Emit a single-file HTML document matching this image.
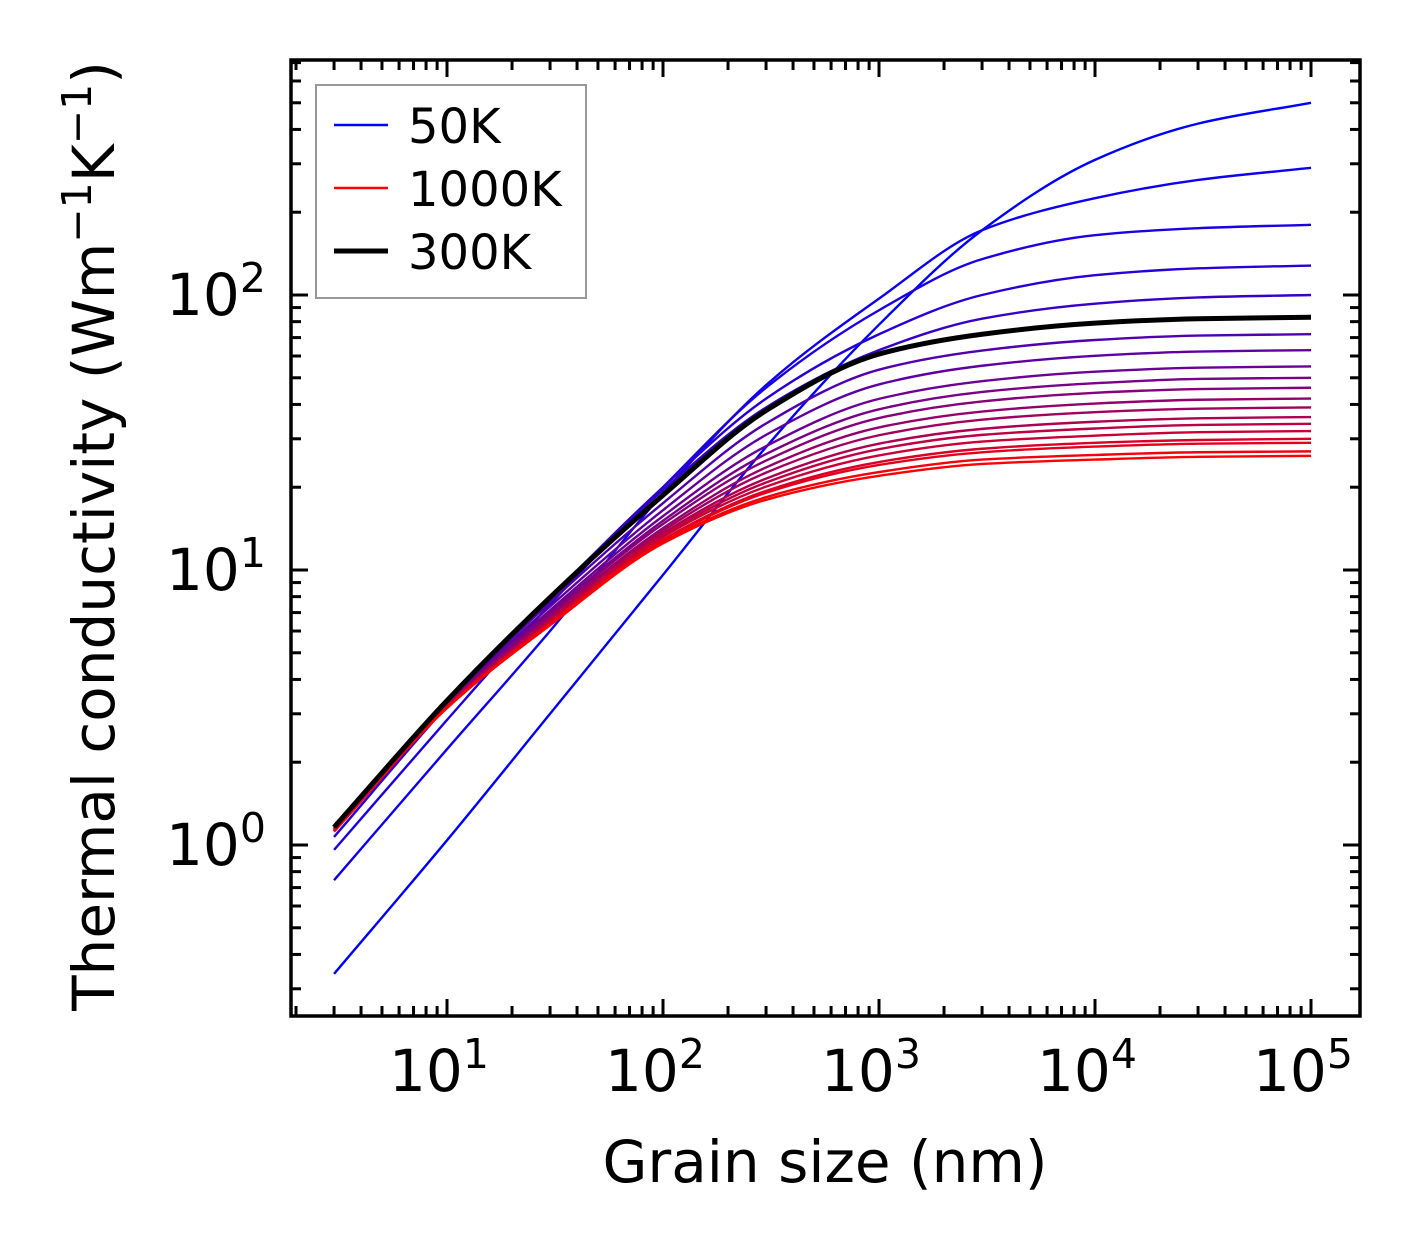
<!DOCTYPE html>
<html><head><meta charset="utf-8"><style>
html,body{margin:0;padding:0;background:#fff}
svg{display:block;font-family:"DejaVu Sans","Liberation Sans",sans-serif}
</style></head><body>
<svg id="chart" width="1421" height="1254" viewBox="0 0 1421 1254" xmlns="http://www.w3.org/2000/svg">
<rect width="1421" height="1254" fill="#fff"/>
<g id="curves"></g>
<g id="ticks"></g>
<rect x="291" y="60" width="1069" height="956" fill="none" stroke="#000" stroke-width="3.5"/>
<g id="xlabels"></g>
<g id="ylabels"></g>
<text x="825" y="1182" font-size="58" text-anchor="middle">Grain size (nm)</text>
<text transform="translate(114,536) rotate(-90)" font-size="58" text-anchor="middle">Thermal conductivity (Wm<tspan dy="-23" font-size="41">−1</tspan><tspan dy="23">K</tspan><tspan dy="-23" font-size="41">−1</tspan><tspan dy="23">)</tspan></text>
<g>
<rect x="316" y="85" width="270" height="213" fill="#fff" stroke="#999" stroke-width="2"/>
<line x1="334" y1="125" x2="388" y2="125" stroke="#0000ff" stroke-width="2.5"/>
<text x="408" y="143" font-size="48">50K</text>
<line x1="334" y1="188" x2="388" y2="188" stroke="#ff0000" stroke-width="2.5"/>
<text x="408" y="206" font-size="48">1000K</text>
<line x1="334" y1="251" x2="388" y2="251" stroke="#000" stroke-width="5"/>
<text x="408" y="269" font-size="48">300K</text>
</g>
</svg>
<script>
const grainSizes = [3, 10, 30, 100, 300, 1000, 3000, 10000, 30000, 100000];
const temperatures = [50,100,150,200,250,300,350,400,450,500,550,600,650,700,750,800,850,900,950,1000];
const k50 = [0.34,1.04,3.0,9.6,28,78,172,310,420,500];
const k100 = [0.745,2.23,6.0,19,47,97,172,225,262,290];
const k150 = [0.96,2.85,7.5,20,46,88,135,165,175,180];
const k200 = [1.07,3.2,7.9,20,42,72,100,118,125,128];
const k250 = [1.12,3.33,8.0,19.5,39,63,82,93,98,100];
const k300 = [1.16,3.35,7.95,18.7,38,61,72,79,82,83];
const k350 = [1.15,3.31,7.63,17.5,34.1,53.5,62.8,68.6,71.2,72];
const k400 = [1.15,3.28,7.37,16.5,31.0,47.3,55.3,60.1,62.3,63];
const k450 = [1.14,3.25,7.14,15.7,28.2,41.9,48.6,52.6,54.4,55];
const k500 = [1.14,3.23,6.99,15.1,26.4,38.4,44.4,47.8,49.5,50];
const k550 = [1.13,3.22,6.88,14.7,25.0,35.7,41.0,44.1,45.5,46];
const k600 = [1.13,3.21,6.76,14.2,23.6,33.0,37.7,40.3,41.6,42];
const k650 = [1.13,3.20,6.68,13.9,22.6,30.9,35.2,37.5,38.6,39];
const k700 = [1.13,3.19,6.59,13.6,21.5,28.8,32.6,34.6,35.6,36];
const k750 = [1.13,3.18,6.53,13.4,20.8,27.5,31.0,32.7,33.7,34];
const k800 = [1.12,3.17,6.47,13.2,20.1,26.1,29.3,30.8,31.7,32];
const k850 = [1.12,3.16,6.42,12.9,19.4,24.7,27.6,29.0,29.7,30];
const k900 = [1.12,3.16,6.39,12.8,19.1,24.1,26.8,28.1,28.8,29];
const k950 = [1.12,3.15,6.33,12.6,18.4,22.7,25.2,26.2,26.8,27];
const k1000 = [1.12,3.15,6.3,12.5,18,22,24.3,25.2,25.8,26];
const series = [k50,k100,k150,k200,k250,k300,k350,k400,k450,k500,k550,k600,k650,k700,k750,k800,k850,k900,k950,k1000];
const xTickLabels = ['1','2','3','4','5'];
const yTickLabels = ['0','1','2'];

const NS = 'http://www.w3.org/2000/svg';
const X0 = 291, X1 = 1360, Y0 = 60, Y1 = 1016;
const xLogMin = 1 - (447-291)/216, xLogMax = 5 + (1360-1311)/216;
const yLogMin = -(1016-845)/275, yLogMax = 2 + (295-60)/275;
function xScale(v){ return X0 + (Math.log10(v)-xLogMin)/(xLogMax-xLogMin)*(X1-X0); }
function yScale(v){ return Y1 - (Math.log10(v)-yLogMin)/(yLogMax-yLogMin)*(Y1-Y0); }
function mk(tag, attrs, parent){ const e=document.createElementNS(NS,tag); for(const k in attrs) e.setAttribute(k,attrs[k]); parent.appendChild(e); return e; }

function pathFor(vals){
  const xs = grainSizes.map(g=>xScale(g)), ys = vals.map(v=>yScale(v));
  const n = xs.length, d = [], m = new Array(n);
  for(let i=0;i<n-1;i++) d.push((ys[i+1]-ys[i])/(xs[i+1]-xs[i]));
  m[0]=d[0]; m[n-1]=d[n-2];
  for(let i=1;i<n-1;i++){
    if(d[i-1]*d[i]<=0) m[i]=0;
    else { const w1=2*(xs[i+1]-xs[i])+(xs[i]-xs[i-1]), w2=(xs[i+1]-xs[i])+2*(xs[i]-xs[i-1]); m[i]=(w1+w2)/(w1/d[i-1]+w2/d[i]); }
  }
  let p = 'M'+xs[0].toFixed(2)+','+ys[0].toFixed(2);
  for(let i=0;i<n-1;i++){
    const h=(xs[i+1]-xs[i])/3;
    p += ' C'+(xs[i]+h).toFixed(2)+','+(ys[i]+m[i]*h).toFixed(2)+' '+(xs[i+1]-h).toFixed(2)+','+(ys[i+1]-m[i+1]*h).toFixed(2)+' '+xs[i+1].toFixed(2)+','+ys[i+1].toFixed(2);
  }
  return p;
}
const curves = document.getElementById('curves');
let blackIdx = -1;
series.forEach((vals,i)=>{
  const T = temperatures[i];
  if (T === 300) { blackIdx = i; return; }
  const t = (T-50)/950;
  const p = mk('path', {d: pathFor(vals), fill:'none', stroke:'rgb('+Math.round(255*t)+',0,'+Math.round(255*(1-t))+')', 'stroke-width':2.4}, curves);
  
  
});
const bp = mk('path', {d: pathFor(series[blackIdx]), fill:'none', stroke:'#000', 'stroke-width':5}, curves);



const ticks = document.getElementById('ticks');
function tick(x1,y1,x2,y2,name){
  const l = mk('line',{x1,y1,x2,y2,stroke:'#000','stroke-width':3},ticks);
  
  
}
for(let e=0;e<=5;e++){
  for(let m=1;m<10;m++){
    const v=m*Math.pow(10,e), lv=Math.log10(v);
    if(lv<xLogMin||lv>xLogMax) continue;
    const x=xScale(v), len=m===1?17:10;
    tick(x,Y1,x,Y1-len,'x-tick');
    tick(x,Y0,x,Y0+len,'x-tick-top');
  }
}
for(let e=-1;e<=2;e++){
  for(let m=1;m<10;m++){
    const v=m*Math.pow(10,e), lv=Math.log10(v);
    if(lv<yLogMin||lv>yLogMax) continue;
    const y=yScale(v), len=m===1?17:10;
    tick(X0,y,X0+len,y,'y-tick');
    tick(X1,y,X1-len,y,'y-tick-right');
  }
}
const xl=document.getElementById('xlabels');
xTickLabels.forEach(s=>{
  const t=mk('text',{x:xScale(Math.pow(10,+s))-58,y:1091,'font-size':58},xl);
  
  
  t.appendChild(document.createTextNode('10'));
  const sp=mk('tspan',{dy:-23,'font-size':41},t); sp.textContent=s;
});
const yl=document.getElementById('ylabels');
yTickLabels.forEach(s=>{
  const t=mk('text',{x:166,y:yScale(Math.pow(10,+s))+20,'font-size':58},yl);
  
  
  t.appendChild(document.createTextNode('10'));
  const sp=mk('tspan',{dy:-23,'font-size':41},t); sp.textContent=s;
});
</script>
</body></html>
